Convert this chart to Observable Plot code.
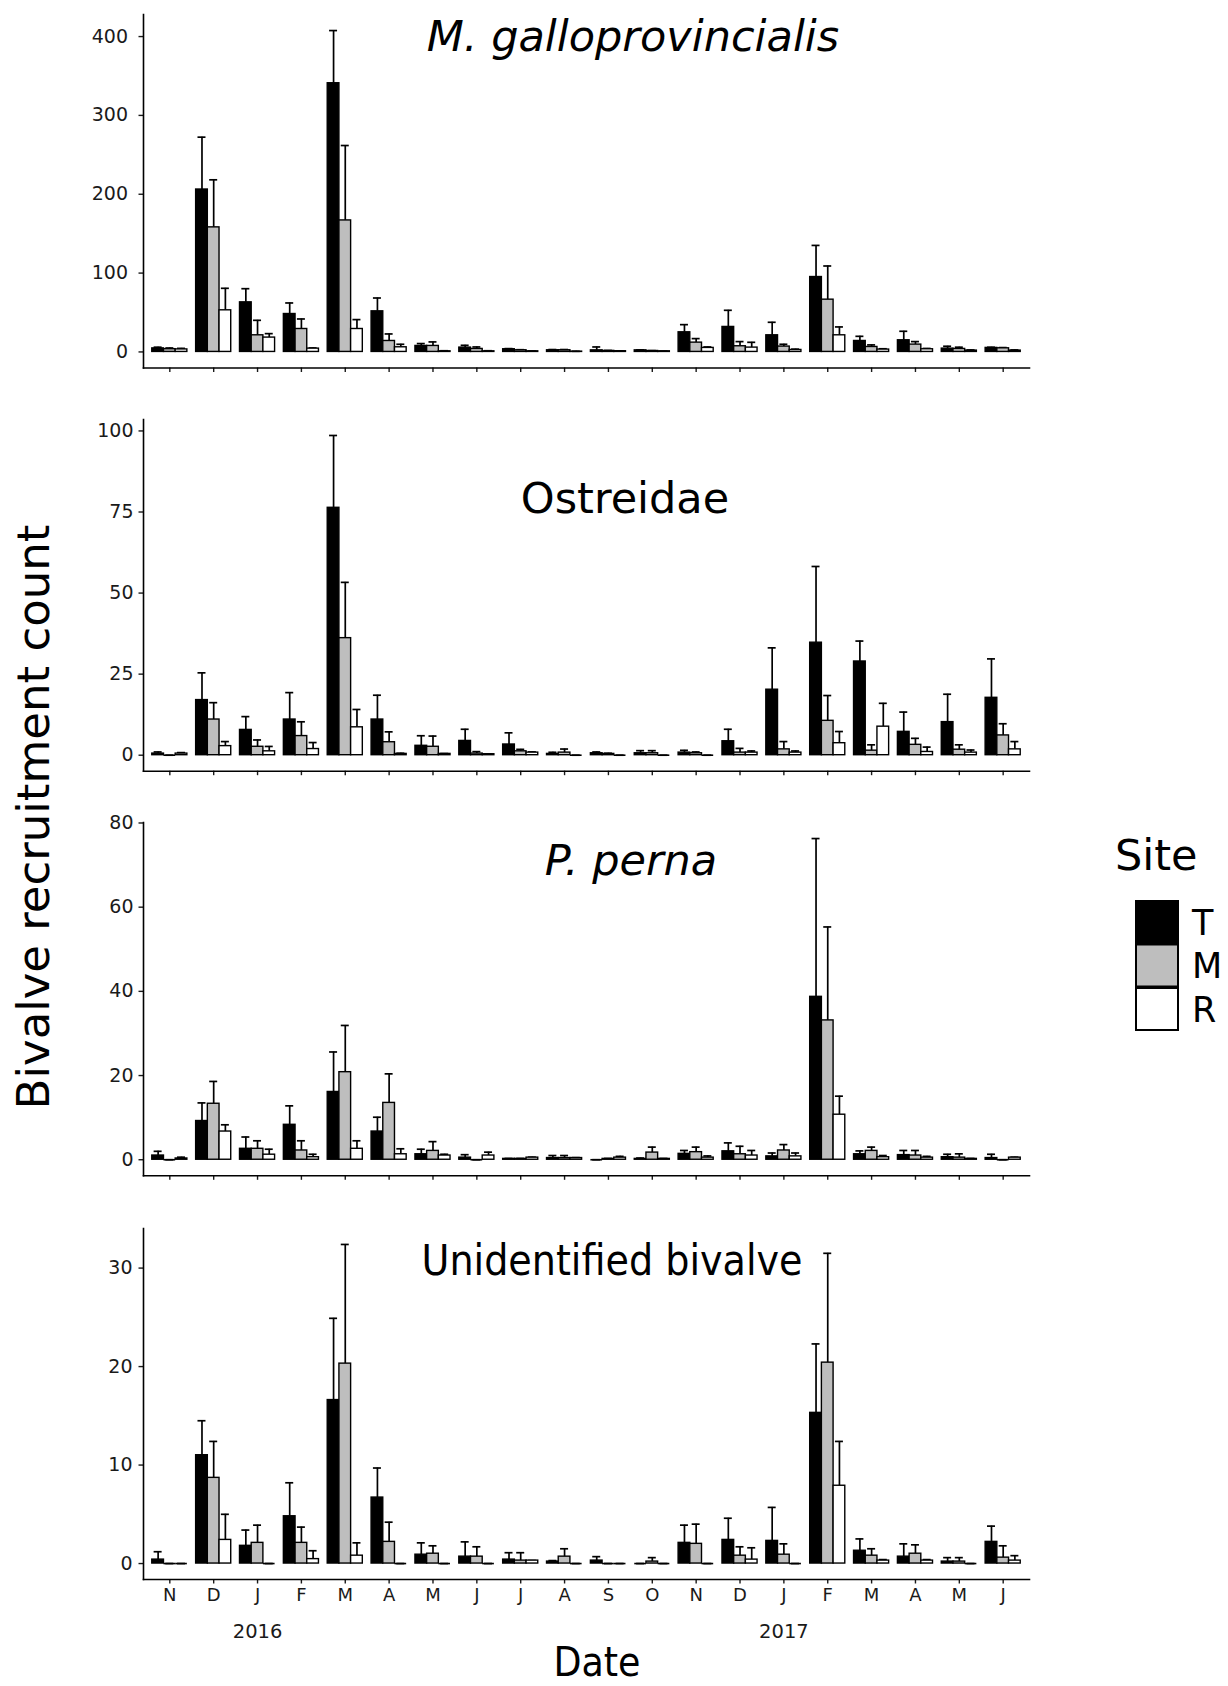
<!DOCTYPE html>
<html>
<head>
<meta charset="utf-8">
<script src="https://cdn.jsdelivr.net/npm/d3@7"></script>
<script src="https://cdn.jsdelivr.net/npm/@observablehq/plot@0.6"></script>
<style>
  html, body { margin: 0; padding: 0; background: #fff; }
  #figure { position: relative; width: 1228px; height: 1686px; font-family: "DejaVu Sans", Verdana, sans-serif; }
  #figure > svg { position: absolute; left: 0; }
</style>
</head>
<body>
<div id="figure"></div>
<script>
// Sampling months, November 2015 to June 2017
const monthKeys = ["2015-11","2015-12","2016-01","2016-02","2016-03","2016-04","2016-05","2016-06","2016-07","2016-08",
                   "2016-09","2016-10","2016-11","2016-12","2017-01","2017-02","2017-03","2017-04","2017-05","2017-06"];
const monthLetters = ["N","D","J","F","M","A","M","J","J","A","S","O","N","D","J","F","M","A","M","J"];
const yearKeys = ["2016-01", "2017-01"];
const yearLabels = ["2016", "2017"];

const sites = ["T", "M", "R"];
const siteFills = ["#000000", "#bebebe", "#ffffff"];

// Mytilus galloprovincialis: mean and standard error per site
const galloMeanT = [4.5, 206, 62.9, 48.1, 340.8, 51.5, 7.6, 5.5, 3.4, 2.1, 2.0, 2.0, 24.9, 31.7, 21.1, 95.0, 13.9, 14.8, 4.2, 5.1];
const galloMeanM = [3.5, 158, 21.1, 29.1, 166.8, 13.9, 7.6, 3.8, 2.1, 2.1, 1.3, 1.2, 11.8, 7.2, 6.8, 66.3, 6.3, 9.3, 3.8, 4.6];
const galloMeanR = [3.2, 52.8, 18.2, 4.2, 29.1, 5.9, 0.8, 0.8, 0.8, 0.4, 0.9, 0.8, 5.1, 5.5, 2.5, 21.1, 3.0, 3.4, 1.7, 1.7];
const galloSeT = [1.5, 66.4, 17.3, 14, 66.8, 16.9, 3, 2.9, 0.8, 0.9, 4.3, 0.5, 9.7, 21.1, 16.5, 40.1, 5.9, 11.4, 3, 0.8];
const galloSeM = [1.5, 60.3, 19, 12.7, 95, 8.9, 5.1, 2.5, 0.7, 0.9, 0.5, 0.4, 5.1, 5.9, 2.9, 42.7, 2.6, 3.8, 2.2, 0.9];
const galloSeR = [1.3, 27.9, 5, 0.8, 11.9, 3.8, 0.7, 0.7, 0.4, 0.4, 0.4, 0.3, 1.2, 6.7, 1, 10.6, 1, 1, 0.8, 0.8];

// Ostreidae
const ostMeanT = [0.5, 17, 7.8, 11, 76.3, 11, 2.9, 4.4, 3.3, 0.4, 0.6, 0.6, 0.8, 4.3, 20.2, 34.7, 28.9, 7.2, 10.2, 17.7];
const ostMeanM = [0, 11, 2.6, 5.9, 36.1, 4, 2.6, 0.5, 1.2, 0.8, 0.4, 0.6, 0.6, 0.8, 1.8, 10.6, 1.4, 3.2, 1.7, 6.1];
const ostMeanR = [0.5, 2.8, 1.2, 1.9, 8.6, 0.4, 0.4, 0.3, 0.8, 0, 0, 0, 0, 0.8, 0.8, 3.7, 8.8, 1, 0.8, 1.8];
const ostSeT = [0.5, 8.4, 4.1, 8.3, 22.3, 7.5, 3.1, 3.6, 3.6, 0.5, 0.4, 0.8, 0.7, 3.7, 12.9, 23.5, 6.3, 6.1, 8.6, 12];
const ostSeM = [0, 5.2, 2.1, 4.4, 17.2, 3.2, 3.3, 0.6, 0.6, 1.1, 0.2, 0.8, 0.4, 1.3, 2.4, 7.8, 1.8, 2, 1.5, 3.6];
const ostSeR = [0.3, 1.4, 1.5, 2, 5.5, 0.2, 0.1, 0.1, 0.2, 0, 0, 0, 0, 0.5, 0.5, 3.6, 7.2, 1.5, 0.8, 2.4];

// Perna perna
const pernaMeanT = [1, 9.2, 2.6, 8.3, 16.1, 6.7, 1.3, 0.5, 0.2, 0.4, 0, 0.2, 1.4, 2, 0.8, 38.7, 1.3, 1.1, 0.6, 0.4];
const pernaMeanM = [0, 13.3, 2.6, 2.2, 20.8, 13.5, 2.1, 0, 0.2, 0.4, 0.2, 1.7, 1.8, 1.3, 2.2, 33.1, 2.1, 1, 0.5, 0];
const pernaMeanR = [0.3, 6.7, 1.2, 0.6, 2.6, 1.3, 1, 1, 0.5, 0.4, 0.5, 0.2, 0.5, 1, 0.8, 10.7, 0.6, 0.5, 0.2, 0.5];
const pernaSeT = [1, 4.3, 2.8, 4.5, 9.5, 3.4, 1.2, 0.7, 0.1, 0.6, 0, 0.2, 0.8, 2, 0.8, 37.6, 0.8, 1.1, 0.7, 0.9];
const pernaSeM = [0, 5.3, 1.9, 2.3, 11.1, 6.9, 2.2, 0, 0.1, 0.6, 0.1, 1.3, 1.2, 1.9, 1.4, 22.2, 0.9, 1.2, 0.9, 0];
const pernaSeR = [0.3, 1.6, 1.3, 0.7, 1.9, 1.3, 0.3, 0.8, 0.1, 0.1, 0.3, 0.1, 0.4, 1.2, 0.8, 4.4, 0.4, 0.3, 0.1, 0.1];

// Unidentified bivalves
const unidMeanT = [0.4, 11, 1.8, 4.8, 16.6, 6.7, 0.9, 0.7, 0.4, 0.2, 0.3, 0, 2.1, 2.4, 2.3, 15.3, 1.3, 0.7, 0.2, 2.2];
const unidMeanM = [0, 8.7, 2.1, 2.1, 20.3, 2.2, 1, 0.7, 0.3, 0.7, 0, 0.2, 2, 0.8, 0.9, 20.4, 0.8, 1, 0.2, 0.6];
const unidMeanR = [0, 2.4, 0, 0.45, 0.8, 0, 0, 0, 0.3, 0, 0, 0, 0, 0.4, 0, 7.9, 0.3, 0.3, 0, 0.3];
const unidSeT = [0.8, 3.5, 1.6, 3.4, 8.3, 3, 1.2, 1.5, 0.7, 0.1, 0.4, 0, 1.8, 2.2, 3.4, 7, 1.2, 1.3, 0.4, 1.6];
const unidSeM = [0, 3.7, 1.8, 1.6, 12.1, 2, 0.8, 1, 0.8, 0.8, 0, 0.4, 2, 0.9, 1.1, 11.1, 0.7, 0.9, 0.4, 1.2];
const unidSeR = [0, 2.6, 0, 0.85, 1.3, 0, 0, 0, 0, 0, 0, 0, 0, 1.2, 0, 4.5, 0.1, 0.1, 0, 0.5];

// Y-axis tick values per panel
const galloTicks = [0, 100, 200, 300, 400];
const ostTicks = [0, 25, 50, 75, 100];
const pernaTicks = [0, 20, 40, 60, 80];
const unidTicks = [0, 10, 20, 30];

const panels = [
  {title: "M. galloprovincialis", italic: true, ticks: galloTicks,
   mean: [galloMeanT, galloMeanM, galloMeanR], se: [galloSeT, galloSeM, galloSeR],
   top: 0, plotH: 353.5, tickPad: 11, titleX: 633, titleY: 50.5, titleSize: 43},
  {title: "Ostreidae", italic: false, ticks: ostTicks,
   mean: [ostMeanT, ostMeanM, ostMeanR], se: [ostSeT, ostSeM, ostSeR],
   top: 405, plotH: 351.7, tickPad: 5.5, titleX: 625, titleY: 513, titleSize: 43},
  {title: "P. perna", italic: true, ticks: pernaTicks,
   mean: [pernaMeanT, pernaMeanM, pernaMeanR], se: [pernaSeT, pernaSeM, pernaSeR],
   top: 807.7, plotH: 353.3, tickPad: 5.5, titleX: 631, titleY: 875, titleSize: 43},
  {title: "Unidentified bivalve", italic: false, ticks: unidTicks,
   mean: [unidMeanT, unidMeanM, unidMeanR], se: [unidSeT, unidSeM, unidSeR],
   top: 1214, plotH: 351, tickPad: 6.5, titleX: 612, titleY: 1275, titleSize: 43, titleLength: 381, last: true}
];

// Shared layout
const W = 1060, ML = 143, MR = 31, MT = 14;
const bandPadding = 0.2;
const step = (W - ML - MR) / (monthKeys.length - bandPadding + 2 * bandPadding);
const groupWidth = step * (1 - bandPadding);
const third = groupWidth / 3;
const capWidth = 8;
const axisColor = "#000";
const textColor = "#1a1a1a";

const figure = document.getElementById("figure");

panels.forEach((p) => {
  const rows = monthKeys.flatMap((key, i) =>
    sites.map((site, s) => ({key, site, s, mean: p.mean[s][i], se: p.se[s][i], upper: p.mean[s][i] + p.se[s][i]})));
  const maxUpper = d3.max(rows, d => d.upper);
  const yDomain = [-0.05 * maxUpper, 1.05 * maxUpper];

  const marks = [];
  sites.forEach((site, s) => {
    const data = rows.filter(d => d.s === s);
    const inL = s * third, inR = (2 - s) * third;
    const capInset = (third - capWidth) / 2;
    marks.push(
      Plot.ruleX(data, {x: "key", y1: "mean", y2: "upper", dx: (s - 1) * third, stroke: "#000", strokeWidth: 1.7}),
      Plot.tickY(data, {x: "key", y: "upper", insetLeft: inL + capInset, insetRight: inR + capInset, stroke: "#000", strokeWidth: 1.7}),
      Plot.barY(data, {x: "key", y: "mean", fill: siteFills[s], stroke: "#000", strokeWidth: 1.4, insetLeft: inL, insetRight: inR}),
      // zero-height bars still show their outline along the baseline
      Plot.tickY(data.filter(d => d.mean === 0), {x: "key", y: "mean", insetLeft: inL, insetRight: inR, stroke: "#000", strokeWidth: 1.6})
    );
  });

  marks.push(
    Plot.axisY({ticks: p.ticks, tickSize: 4.5, tickPadding: p.tickPad, fontSize: 19, color: textColor, strokeWidth: 1.4, label: null}),
    Plot.axisX({tickSize: 4.5, tickPadding: 4, fontSize: 18, color: textColor, strokeWidth: 1.4, label: null,
                tickFormat: p.last ? (k => monthLetters[monthKeys.indexOf(k)]) : (() => "")}),
    Plot.frame({anchor: "left", stroke: axisColor, strokeWidth: 1.6}),
    Plot.frame({anchor: "bottom", stroke: axisColor, strokeWidth: 1.6})
  );
  if (p.last) {
    marks.push(Plot.text(yearKeys.map((k, i) => ({key: k, label: yearLabels[i]})),
      {x: "key", text: "label", frameAnchor: "bottom", dy: 45, lineAnchor: "top", fontSize: 19.5, fill: textColor}));
  }

  const MB = p.last ? 70 : 12;
  const svg = Plot.plot({
    width: W,
    height: MT + p.plotH + MB,
    marginLeft: ML, marginRight: MR, marginTop: MT, marginBottom: MB,
    x: {type: "band", domain: monthKeys, padding: bandPadding, round: false, label: null},
    y: {domain: yDomain, label: null},
    style: {fontFamily: "'DejaVu Sans', Verdana, sans-serif", background: "transparent", overflow: "visible"},
    marks
  });
  svg.style.top = p.top + "px";
  figure.appendChild(svg);
});

// Titles, axis titles and legend
const overlay = d3.select(figure).append("svg")
  .attr("width", 1228).attr("height", 1686)
  .style("top", "0px").style("pointer-events", "none")
  .style("font-family", "'DejaVu Sans', Verdana, sans-serif");

panels.forEach(p => {
  const t = overlay.append("text")
    .attr("x", p.titleX).attr("y", p.titleY)
    .attr("text-anchor", "middle")
    .attr("font-size", p.titleSize)
    .attr("font-style", p.italic ? "italic" : "normal")
    .attr("fill", "#000")
    .text(p.title);
  if (p.titleLength) t.attr("textLength", p.titleLength).attr("lengthAdjust", "spacingAndGlyphs");
});

overlay.append("text")
  .attr("transform", "translate(49,817) rotate(-90)")
  .attr("text-anchor", "middle").attr("font-size", 45).attr("fill", "#000")
  .text("Bivalve recruitment count");

overlay.append("text")
  .attr("x", 597).attr("y", 1676)
  .attr("text-anchor", "middle").attr("font-size", 40).attr("fill", "#000")
  .attr("textLength", 87).attr("lengthAdjust", "spacingAndGlyphs")
  .text("Date");

// Site legend
const legend = overlay.append("g").attr("transform", "translate(1115,0)");
legend.append("text").attr("x", 0).attr("y", 870).attr("font-size", 43).attr("fill", "#000").text("Site");
const keySize = 42, keyTop = 901;
sites.forEach((site, s) => {
  legend.append("rect")
    .attr("x", 21).attr("y", keyTop + s * (keySize + 1.5))
    .attr("width", keySize).attr("height", keySize)
    .attr("fill", siteFills[s]).attr("stroke", "#000").attr("stroke-width", 2);
  legend.append("text")
    .attr("x", 77).attr("y", keyTop + s * (keySize + 1.5) + keySize / 2)
    .attr("dy", "0.36em")
    .attr("font-size", 35).attr("fill", "#000")
    .text(site);
});
</script>
</body>
</html>
